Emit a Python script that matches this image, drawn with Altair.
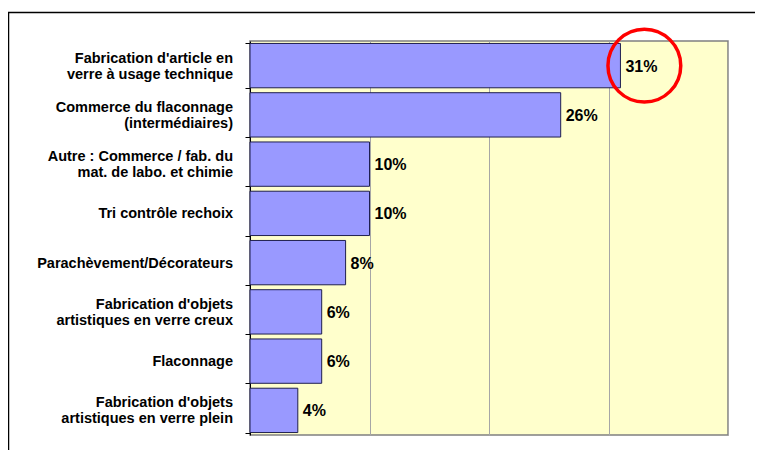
import altair as alt
import pandas as pd

categories = [
    "Fabrication d'article en|verre à usage technique",
    "Commerce du flaconnage|(intermédiaires)",
    "Autre : Commerce / fab. du|mat. de labo. et chimie",
    "Tri contrôle rechoix",
    "Parachèvement/Décorateurs",
    "Fabrication d'objets|artistiques en verre creux",
    "Flaconnage",
    "Fabrication d'objets|artistiques en verre plein",
]
values = [31, 26, 10, 10, 8, 6, 6, 4]
labels = ["31%", "26%", "10%", "10%", "8%", "6%", "6%", "4%"]

# annotation: red circle around the top value label
circle_x = [33]
circle_cat = [categories[0]]

df = pd.DataFrame({"cat": categories, "val": values, "lab": labels})
circ = pd.DataFrame({"cat": circle_cat, "x": circle_x})

W, H = 478, 394
FONT = "Liberation Sans"

y_enc = alt.Y(
    "cat:N",
    sort=categories,
    scale=alt.Scale(paddingInner=0.1, paddingOuter=0.05),
    axis=alt.Axis(
        title=None,
        labels=False,
        tickBand="extent",
        tickSize=5,
        tickColor="#000000",
        domainColor="#000000",
        grid=False,
    ),
)
y_plain = alt.Y("cat:N", sort=categories)
x_enc = alt.X(
    "val:Q",
    scale=alt.Scale(domain=[0, 40]),
    axis=alt.Axis(
        title=None,
        labels=False,
        ticks=False,
        domain=False,
        values=[0, 10, 20, 30, 40],
        grid=True,
        gridColor="#A6A6A6",
        gridWidth=1,
    ),
)

frame = alt.Chart(pd.DataFrame({"k": [0]})).mark_rect(
    fill=None, stroke="#000000", strokeWidth=1.5, clip=False
).encode(
    x=alt.value(-241.5), x2=alt.value(W + 60),
    y=alt.value(-28.5), y2=alt.value(H + 60),
)

bars = alt.Chart(df).mark_bar(
    color="#9999FF", stroke="#1F1F4F", strokeWidth=1
).encode(x=x_enc, y=y_enc)

text = alt.Chart(df).mark_text(
    align="left", baseline="middle", dx=5, dy=1, font=FONT, fontSize=16,
    fontWeight="bold", color="#000000"
).encode(x="val:Q", y=y_plain, text="lab:N")

label_style = dict(
    align="right", baseline="middle", font=FONT, fontSize=14.5,
    fontWeight="bold", color="#000000", lineBreak="|", lineHeight=16,
)
cat_multi = alt.Chart(df).transform_filter(
    "indexof(datum.cat, '|') >= 0"
).mark_text(dy=-7, **label_style).encode(
    x=alt.value(-17), y=y_plain, text="cat:N"
)
cat_single = alt.Chart(df).transform_filter(
    "indexof(datum.cat, '|') < 0"
).mark_text(dy=1, **label_style).encode(
    x=alt.value(-17), y=y_plain, text="cat:N"
)

ring = alt.Chart(circ).mark_point(
    shape="circle", size=5300, filled=False, stroke="#FF0000",
    strokeWidth=3.5, opacity=1, clip=False
).encode(x="x:Q", y=y_plain)

chart = alt.layer(frame, bars, text, cat_multi, cat_single, ring).properties(
    width=W, height=H,
    autosize=alt.AutoSizeParams(type="none"),
    padding={"left": 242, "top": 33, "right": 27, "bottom": 15},
    background="#FFFFFF",
).configure_view(
    fill="#FFFFCC", stroke="#808080", strokeWidth=1.5
)

chart.save("out.html", embed_options={"renderer": "svg", "actions": False})
